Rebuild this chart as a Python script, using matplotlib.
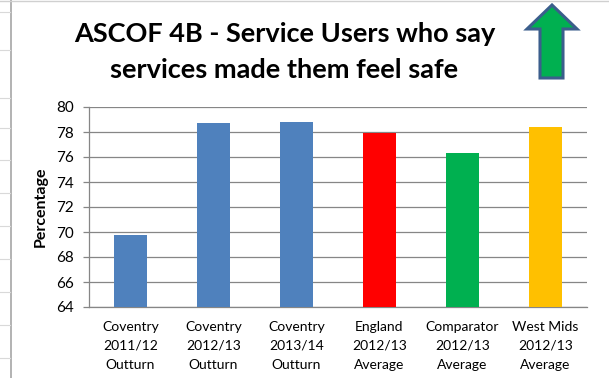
import matplotlib
matplotlib.use("Agg")
import matplotlib.pyplot as plt
from matplotlib.patches import Polygon
from matplotlib.lines import Line2D

categories = [
    "Coventry\n2011/12\nOutturn",
    "Coventry\n2012/13\nOutturn",
    "Coventry\n2013/14\nOutturn",
    "England\n2012/13\nAverage",
    "Comparator\n2012/13\nAverage",
    "West Mids\n2012/13\nAverage",
]
values = [69.8, 78.7, 78.8, 77.9, 76.3, 78.4]
bar_colors = ["#4F81BD", "#4F81BD", "#4F81BD", "#FF0000", "#00B050", "#FFC000"]
y_ticks = [64, 66, 68, 70, 72, 74, 76, 78, 80]

W, H = 609, 378
fig = plt.figure(figsize=(W / 100, H / 100), dpi=100)
fig.patch.set_facecolor("white")

font = "Lato"

# worksheet frame at the left edge
fig.add_artist(Line2D([11 / W, 11 / W], [0, 1], color="#A6A6A6", lw=1.2))
fig.add_artist(Line2D([0, 1], [1 - 1 / H, 1 - 1 / H], color="#D0D0D0", lw=1.0))
for yy in [12, 50, 98, 128, 160, 193, 226, 259, 292, 325, 358]:
    fig.add_artist(Line2D([0, 10 / W], [1 - yy / H, 1 - yy / H], color="#D9D9D9", lw=0.8))

ax = fig.add_axes([89 / W, 1 - 307 / H, (587 - 89) / W, (307 - 107) / H])
x = range(len(categories))
ax.bar(x, values, width=0.4, color=bar_colors, zorder=3)
ax.set_ylim(64, 80)
ax.set_xlim(-0.5, len(categories) - 0.5)
ax.set_yticks(y_ticks)
ax.set_yticklabels([str(t) for t in y_ticks], fontsize=11, family=font)
ax.yaxis.grid(True, color="#868686", lw=0.9, zorder=0)
ax.set_axisbelow(True)
ax.tick_params(axis="y", length=4, width=0.9, color="#868686", pad=7)
ax.set_xticks(list(x))
ax.set_xticklabels(categories, fontsize=10, family=font, linespacing=1.7)
ax.tick_params(axis="x", length=0, pad=10)
for s in ["top", "right"]:
    ax.spines[s].set_visible(False)
for s in ["left", "bottom"]:
    ax.spines[s].set_color("#868686")
    ax.spines[s].set_linewidth(0.9)
ax.set_ylabel("Percentage", fontsize=11.5, fontweight="bold", family=font, labelpad=6)

fig.text(285 / W, 1 - 42 / H, "ASCOF 4B - Service Users who say", ha="center", va="baseline",
         fontsize=19.5, fontweight="bold", family=font)
fig.text(284 / W, 1 - 78 / H, "services made them feel safe", ha="center", va="baseline",
         fontsize=19.5, fontweight="bold", family=font)

# upward arrow
pts = [(552, 5), (577, 29), (563, 29), (563, 78), (540, 78), (540, 29), (527, 29)]
arrow = Polygon([(px / W, 1 - py / H) for px, py in pts], closed=True,
                facecolor="#00B050", edgecolor="#3B5E8C", lw=2.2, transform=fig.transFigure)
fig.add_artist(arrow)

fig.savefig("out.png", dpi=100, facecolor="white")
